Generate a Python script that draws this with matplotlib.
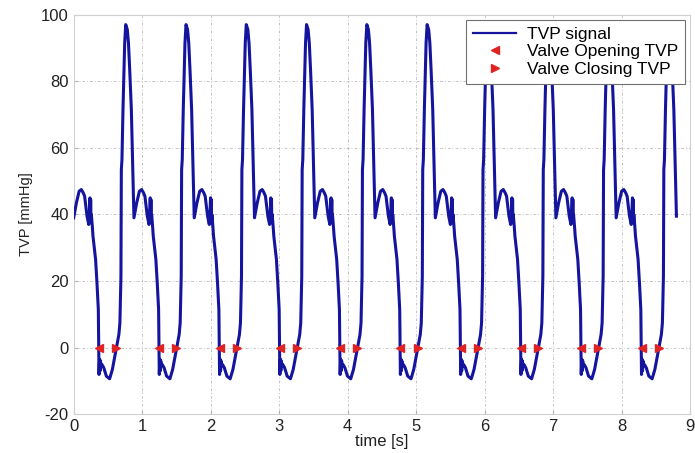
import matplotlib
matplotlib.use("Agg")
import matplotlib.pyplot as plt
import numpy as np

# -----------------------
# Data
# -----------------------
# one heart cycle of the TVP signal: phase [s] and pressure [mmHg]
cycle_phase = [0.000, 0.040, 0.080, 0.112, 0.140, 0.160, 0.195, 0.220, 0.232,
               0.238, 0.243, 0.248, 0.253, 0.258, 0.272, 0.282, 0.320, 0.340,
               0.360, 0.366, 0.370, 0.378, 0.385, 0.392, 0.400, 0.413, 0.440,
               0.477, 0.525, 0.565, 0.610, 0.623, 0.660, 0.675, 0.690, 0.696,
               0.705, 0.720, 0.745, 0.760, 0.783, 0.800, 0.818, 0.842, 0.866,
               0.880]
cycle_tvp = [39.0, 43.5, 47.0, 47.5, 46.5, 45.5, 39.5, 37.0, 41.5,
             45.0, 38.0, 44.5, 37.5, 40.0, 36.5, 33.5, 26.5, 19.5,
             11.4, 0.0, -8.1, -3.5, -7.0, -4.0, -5.5, -5.1, -6.1,
             -8.6, -9.4, -6.6, -1.6, 0.0, 3.9, 7.4, 21.4, 53.5,
             56.5, 71.6, 91.6, 97.1, 95.6, 91.6, 83.6, 71.6, 51.5,
             39.5]
cycle_period = 0.88
n_cycles = 10

opening_times = [0.37, 1.25, 2.13, 3.01, 3.89, 4.77, 5.65, 6.53, 7.41, 8.29]
closing_times = [0.62, 1.50, 2.38, 3.26, 4.14, 5.02, 5.90, 6.78, 7.66, 8.54]
opening_tvp = [0.0] * len(opening_times)
closing_tvp = [0.0] * len(closing_times)

t = np.concatenate([k * cycle_period + np.array(cycle_phase) for k in range(n_cycles)])
tvp = np.tile(cycle_tvp, n_cycles)

# -----------------------
# Plot
# -----------------------
plt.rcParams["font.family"] = ["Liberation Sans", "DejaVu Sans"]
plt.rcParams["axes.unicode_minus"] = False

fig = plt.figure(figsize=(6.95, 4.53), dpi=100)
ax = fig.add_axes([0.106, 0.086, 0.887, 0.881])

ax.plot(t, tvp, color="#14149e", linewidth=2.2, label="TVP signal", zorder=3)
ax.plot(opening_times, opening_tvp, linestyle="none", marker="<",
        markersize=5.5, color="#e02424", label="Valve Opening TVP", zorder=4)
ax.plot(closing_times, closing_tvp, linestyle="none", marker=">",
        markersize=5.5, color="#e02424", label="Valve Closing TVP", zorder=4)

ax.set_xlim(0, 9)
ax.set_ylim(-20, 100)
ax.set_xticks(np.arange(0, 10, 1))
ax.set_yticks(np.arange(-20, 101, 20))

ax.grid(True, color="#a0a0a0", linestyle=(0, (3, 2, 1, 2)), linewidth=0.7, alpha=0.6)
for s in ax.spines.values():
    s.set_color("#d0d0d0")
ax.tick_params(direction="in", length=3, color="#b0b0b0", labelsize=12,
               labelcolor="#222222")

ax.set_xlabel("time [s]", fontsize=12, labelpad=0, color="#222222")
ax.set_ylabel("TVP [mmHg]", fontsize=10.5, color="#222222", labelpad=6)

leg = ax.legend(loc="upper right", fontsize=12.5, frameon=True, fancybox=False,
                framealpha=1, borderaxespad=0.3, handlelength=2.5,
                handletextpad=0.6, borderpad=0.4, labelspacing=0.12)
leg.get_frame().set_edgecolor("#707070")
leg.get_frame().set_linewidth(0.8)
for h in leg.get_lines()[:1]:
    h.set_linewidth(1.6)

fig.savefig("out.png", dpi=100)
